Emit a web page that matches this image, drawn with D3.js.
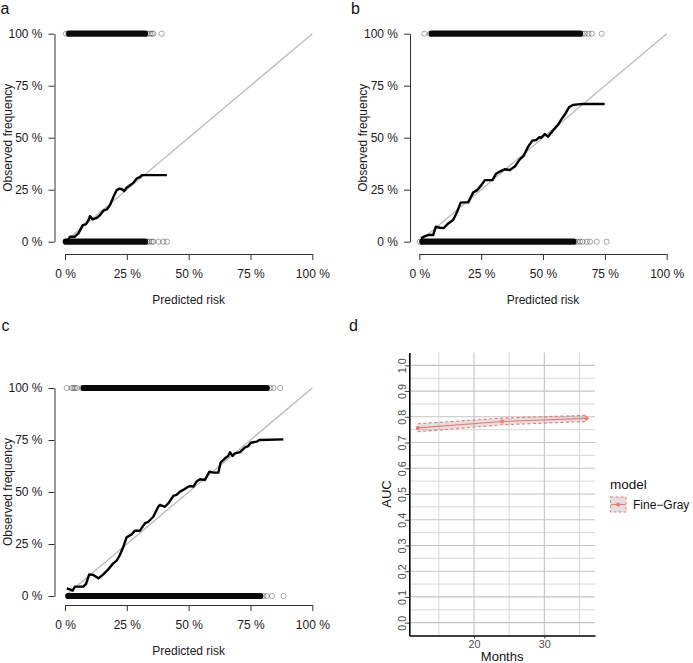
<!DOCTYPE html>
<html><head><meta charset="utf-8">
<script src="https://cdn.jsdelivr.net/npm/d3@7"></script>
<style>
body{margin:0;background:#fff;}
svg{display:block;font-family:"Liberation Sans",Arial,Helvetica,sans-serif;}
</style></head>
<body>
<svg id="chart" width="693" height="663"></svg>
<script>
// ---------- Calibration panel data (percent) ----------
const pctTicks = [0, 25, 50, 75, 100];

const aPred = [0, 1.4, 2, 4, 5.4, 7.2, 8.5, 9.5, 10.1, 11.2, 12.8, 14.2, 15.5, 16.9, 18.2, 19.6, 20.9, 22, 23, 23.9, 25, 26.4, 27.7, 29, 30.4, 31.1, 33.1, 41.2];
const aObs  = [0.5, 1.1, 2.4, 2.4, 4, 8, 8.5, 10.4, 12.3, 10.7, 11.4, 12.8, 14.9, 15.5, 17.6, 21.6, 24.8, 25.5, 25.2, 24.4, 26.1, 27.2, 28.4, 30.4, 31.2, 32, 32, 32];
const aEventBand = [1.7, 32.4];
const aEventPts = [0.4, 1.3, 33.4, 34.4, 35.1, 35.7, 39.1];
const aNonBand = [0.3, 32.4];
const aNonPts = [33.3, 34.1, 35.1, 35.7, 37.8, 39.8, 41.2];

const bPred = [0.7, 2.3, 3.6, 5.6, 6.7, 8.3, 9.9, 11.7, 13.7, 15.3, 16.7, 18, 19.8, 21.8, 23.4, 25.1, 26.5, 28.2, 29.6, 30.9, 32.5, 34.5, 36.6, 38.6, 40.6, 42.2, 44, 45.7, 47.3, 48.4, 49.3, 50.7, 52, 54, 56, 57.4, 58.7, 60.5, 62.1, 64.1, 66.1, 74.9];
const bObs  = [1.6, 2.7, 3.2, 3.2, 7.2, 6.7, 6.6, 8.8, 10.4, 14.4, 18.8, 18.9, 18.9, 23.7, 24.8, 27.2, 29.6, 29.6, 29.6, 32.5, 33.7, 34.8, 34.5, 36.1, 39.6, 41.3, 45.7, 48.6, 48.9, 50.2, 50, 51.8, 50.5, 53.4, 56.1, 58.8, 60.9, 64.6, 65.7, 66, 66.2, 66.2];
const bEventBand = [5, 65];
const bEventPts = [2.0, 4.3, 66, 67, 68.4, 69.7, 73.7];
const bNonBand = [1.2, 62.3];
const bNonPts = [0.2, 63, 64, 65, 66, 67.7, 69, 71.7, 75.7];

const cPred = [0.7, 2, 3.1, 4, 5.4, 7.4, 8.5, 9.8, 11.5, 13.5, 15.5, 17.5, 19.5, 20.9, 22.2, 23.6, 24.9, 26.9, 28.3, 30.3, 32.3, 33.7, 35.7, 37.7, 38.4, 40.4, 41.8, 43.8, 45.1, 46.5, 47.8, 49.2, 50.5, 51.9, 53.2, 54.6, 56.6, 58.4, 60, 62, 62.9, 64.7, 66, 66.7, 67.8, 68.7, 70.8, 72.8, 74.1, 75.1, 77.5, 78.6, 88.3];
const cObs  = [3.7, 3.2, 2.6, 4.5, 4.5, 4.5, 5.8, 10.4, 10.1, 8.5, 10.4, 12.8, 15.7, 17, 19.7, 23.7, 28.2, 29.6, 31.4, 31.4, 34.9, 35.7, 38.1, 42.9, 43.8, 42.9, 44.6, 48.1, 48.6, 50.2, 51, 52.1, 52.9, 52.6, 55, 56.1, 55.8, 59.8, 59.3, 59.3, 64.1, 66.2, 67.3, 69.1, 67.3, 68.6, 69.2, 71.5, 72.1, 73.7, 74.2, 75, 75.3];
const cEventBand = [7.5, 81.6];
const cEventPts = [0.7, 2.7, 3.4, 4.0, 4.7, 6.8, 83, 84.3, 87];
const cNonBand = [1.3, 79];
const cNonPts = [80.3, 81.6, 83.7, 88.4];

// ---------- Time-dependent AUC data ----------
const months = [12, 24, 36];
const auc = [0.757, 0.782, 0.794];
const aucLow = [0.742, 0.769, 0.782];
const aucHigh = [0.773, 0.795, 0.806];
const aucMajor = [0, 0.1, 0.2, 0.3, 0.4, 0.5, 0.6, 0.7, 0.8, 0.9, 1.0];
const aucMinor = [0.05, 0.15, 0.25, 0.35, 0.45, 0.55, 0.65, 0.75, 0.85, 0.95];
const monthMajor = [20, 30];
const monthMinor = [15, 25, 35];
const modelName = "Fine\u2212Gray";

const svg = d3.select("#chart");
const FONT = 12;

function calPanel(cfg) {
  const g = svg.append("g");
  const x = d3.scaleLinear().domain([0, 100]).range([cfg.x0, cfg.x1]);
  const y = d3.scaleLinear().domain([0, 100]).range([cfg.y0, cfg.y1]);

  // diagonal
  g.append("line")
    .attr("x1", x(0)).attr("y1", y(0)).attr("x2", x(100)).attr("y2", y(100))
    .attr("stroke", "#bdbdbd").attr("stroke-width", 1.4);

  // rugs: dense bands + individual circles
  const rows = [
    {band: cfg.eventBand, pts: cfg.eventPts, v: 100},
    {band: cfg.nonBand, pts: cfg.nonPts, v: 0}
  ];
  rows.forEach(r => {
    g.append("line")
      .attr("x1", x(r.band[0])).attr("x2", x(r.band[1]))
      .attr("y1", y(r.v)).attr("y2", y(r.v))
      .attr("stroke", "#0a0a0a").attr("stroke-width", 6.2)
      .attr("stroke-linecap", "round");
    g.selectAll(null).data(r.pts).enter().append("circle")
      .attr("cx", d => x(d)).attr("cy", y(r.v)).attr("r", 2.6)
      .attr("fill", "none").attr("stroke", "#000").attr("stroke-opacity", 0.38)
      .attr("stroke-width", 0.9);
  });

  // calibration curve
  const line = d3.line().x(d => x(d[0])).y(d => y(d[1]));
  g.append("path").datum(d3.zip(cfg.pred, cfg.obs))
    .attr("d", line).attr("fill", "none").attr("stroke", "#000")
    .attr("stroke-width", 2.4).attr("stroke-linejoin", "round");

  // axes
  const ya = g.append("g").attr("transform", `translate(${cfg.axisX},0)`)
    .call(d3.axisLeft(y).tickValues(pctTicks).tickFormat(d => d + " %")
      .tickSize(6).tickSizeOuter(0).tickPadding(6));
  const xa = g.append("g").attr("transform", `translate(0,${cfg.axisY})`)
    .call(d3.axisBottom(x).tickValues(pctTicks).tickFormat(d => d + " %")
      .tickSize(6).tickSizeOuter(0).tickPadding(9));
  [ya, xa].forEach(a => {
    a.select(".domain").attr("stroke", "#333").attr("stroke-width", 1);
    a.selectAll(".tick line").attr("stroke", "#333").attr("stroke-width", 1);
    a.selectAll("text").attr("font-size", FONT).attr("fill", "#1a1a1a")
      .attr("font-family", '"Liberation Sans",Arial,sans-serif');
  });

  g.append("text").attr("x", (cfg.x0 + cfg.x1) / 2).attr("y", cfg.axisY + 50)
    .attr("text-anchor", "middle").attr("font-size", FONT).attr("fill", "#1a1a1a")
    .text("Predicted risk");
  g.append("text")
    .attr("transform", `translate(${cfg.axisX - 43},${(cfg.y0 + cfg.y1) / 2}) rotate(-90)`)
    .attr("text-anchor", "middle").attr("font-size", FONT).attr("fill", "#1a1a1a")
    .text("Observed frequency");
  g.append("text").attr("x", cfg.lx).attr("y", cfg.ly)
    .attr("font-size", 16).attr("fill", "#111").text(cfg.label);
}

calPanel({label: "a", lx: 0.5, ly: 14, x0: 65, x1: 312.3, y0: 241.7, y1: 33.7, axisX: 54.5, axisY: 254,
  pred: aPred, obs: aObs, eventBand: aEventBand, eventPts: aEventPts, nonBand: aNonBand, nonPts: aNonPts});
calPanel({label: "b", lx: 351, ly: 14, x0: 419.3, x1: 666.7, y0: 241.7, y1: 33.7, axisX: 410, axisY: 254,
  pred: bPred, obs: bObs, eventBand: bEventBand, eventPts: bEventPts, nonBand: bNonBand, nonPts: bNonPts});
calPanel({label: "c", lx: 1.5, ly: 331, x0: 65, x1: 312.3, y0: 596, y1: 388, axisX: 54.5, axisY: 605,
  pred: cPred, obs: cObs, eventBand: cEventBand, eventPts: cEventPts, nonBand: cNonBand, nonPts: cNonPts});

// ---------- Panel d ----------
(function () {
  const g = svg.append("g");
  const left = 409.3, right = 595, top = 352.5, bottom = 635.5;
  const x = d3.scaleLinear().domain([10.8, 37.2]).range([left, right]);
  const y = d3.scaleLinear().domain([-0.05, 1.05]).range([bottom, top]);
  const red = "#F8766D";

  // grid
  g.selectAll(null).data(aucMinor).enter().append("line")
    .attr("x1", left).attr("x2", right).attr("y1", d => y(d)).attr("y2", d => y(d))
    .attr("stroke", "#d4d4d4").attr("stroke-width", 0.9);
  g.selectAll(null).data(monthMinor).enter().append("line")
    .attr("y1", top).attr("y2", bottom).attr("x1", d => x(d)).attr("x2", d => x(d))
    .attr("stroke", "#d4d4d4").attr("stroke-width", 0.9);
  g.selectAll(null).data(aucMajor).enter().append("line")
    .attr("x1", left).attr("x2", right).attr("y1", d => y(d)).attr("y2", d => y(d))
    .attr("stroke", "#c4c4c4").attr("stroke-width", 1.1);
  g.selectAll(null).data(monthMajor).enter().append("line")
    .attr("y1", top).attr("y2", bottom).attr("x1", d => x(d)).attr("x2", d => x(d))
    .attr("stroke", "#c4c4c4").attr("stroke-width", 1.1);

  const rows = months.map((m, i) => ({m, v: auc[i], lo: aucLow[i], hi: aucHigh[i]}));
  // ribbon
  g.append("path").datum(rows)
    .attr("d", d3.area().x(d => x(d.m)).y0(d => y(d.lo)).y1(d => y(d.hi)))
    .attr("fill", "#9a9a9a").attr("fill-opacity", 0.3);
  ["lo", "hi"].forEach(k => {
    g.append("path").datum(rows)
      .attr("d", d3.line().x(d => x(d.m)).y(d => y(d[k])))
      .attr("fill", "none").attr("stroke", red).attr("stroke-width", 1.1)
      .attr("stroke-dasharray", "3,2.5");
  });
  g.append("path").datum(rows)
    .attr("d", d3.line().x(d => x(d.m)).y(d => y(d.v)))
    .attr("fill", "none").attr("stroke", red).attr("stroke-width", 1.1);
  g.selectAll(null).data(rows).enter().append("circle")
    .attr("cx", d => x(d.m)).attr("cy", d => y(d.v)).attr("r", 2)
    .attr("fill", red);

  // axes
  const xa = g.append("g").attr("transform", `translate(0,${bottom})`)
    .call(d3.axisBottom(x).tickValues(monthMajor).tickSize(3).tickSizeOuter(0).tickPadding(2));
  const ya = g.append("g").attr("transform", `translate(${left},0)`)
    .call(d3.axisLeft(y).tickValues(aucMajor).tickFormat(d3.format(".1f")).tickSize(3).tickSizeOuter(0));
  [xa, ya].forEach(a => {
    a.select(".domain").attr("stroke", "#000").attr("stroke-width", 1.6);
    a.selectAll(".tick line").attr("stroke", "#333").attr("stroke-width", 1);
    a.selectAll("text").attr("font-size", 10.8).attr("fill", "#4d4d4d")
      .attr("font-family", '"Liberation Sans",Arial,sans-serif');
  });
  ya.selectAll(".tick text")
    .attr("x", null).attr("dy", null)
    .attr("transform", "translate(-3.8,0) rotate(-90)")
    .attr("text-anchor", "middle");

  g.append("text").attr("x", (left + right) / 2).attr("y", 661)
    .attr("text-anchor", "middle").attr("font-size", 13).attr("fill", "#111").text("Months");
  g.append("text").attr("transform", `translate(391,${(top + bottom) / 2}) rotate(-90)`)
    .attr("text-anchor", "middle").attr("font-size", 13).attr("fill", "#111").text("AUC");

  // legend
  g.append("text").attr("x", 610).attr("y", 488.5).attr("font-size", 13.5).attr("fill", "#111").text("model");
  g.append("rect").attr("x", 610.5).attr("y", 497).attr("width", 15.5).attr("height", 15)
    .attr("fill", "#9a9a9a").attr("fill-opacity", 0.3)
    .attr("stroke", red).attr("stroke-width", 1).attr("stroke-dasharray", "3,2");
  g.append("line").attr("x1", 611).attr("x2", 625.5).attr("y1", 504.5).attr("y2", 504.5)
    .attr("stroke", red).attr("stroke-width", 1.1);
  g.append("circle").attr("cx", 618.2).attr("cy", 504.5).attr("r", 2).attr("fill", red);
  g.append("text").attr("x", 633).attr("y", 509).attr("font-size", 12).attr("fill", "#111").text(modelName);

  g.append("text").attr("x", 349).attr("y", 331).attr("font-size", 16).attr("fill", "#111").text("d");
})();
</script>
</body></html>
